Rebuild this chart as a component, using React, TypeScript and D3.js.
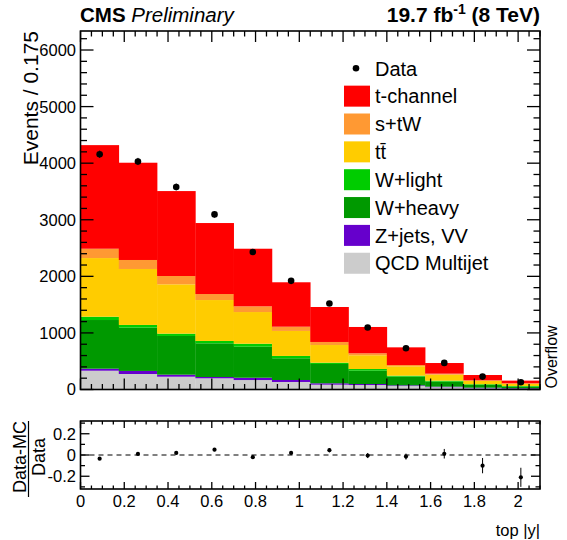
import React from "react";
import * as d3 from "d3";

// ---- data ----
const binEdges = [0, 0.175, 0.35, 0.525, 0.7, 0.875, 1.05, 1.225, 1.4, 1.575, 1.75, 1.925, 2.1];
const qcd = [332, 274, 226, 198, 167, 133, 85, 79, 61, 39, 21, 9];
const zjetsVV = [36, 54, 36, 23, 41, 35, 25, 18, 13, 11, 11, 12];
const wHeavy = [860, 765, 684, 595, 548, 384, 341, 235, 152, 88, 48, 29];
const wLight = [58, 48, 41, 42, 53, 41, 23, 30, 18, 18, 13, 12];
const ttbar = [1037, 989, 872, 723, 560, 442, 312, 243, 166, 106, 58, 36];
const stW = [165, 159, 147, 106, 101, 75, 54, 35, 23, 18, 12, 13];
const tChannel = [1831, 1719, 1501, 1255, 1018, 785, 618, 465, 312, 188, 93, 46];
const dataCounts = [4158, 4030, 3580, 3095, 2430, 1920, 1520, 1095, 730, 470, 228, 128];
const ratioValues = [-0.035, 0.01, 0.02, 0.05, -0.02, 0.02, 0.045, -0.005, -0.015, 0.012, -0.1, -0.21];
const ratioErrors = [0.012, 0.012, 0.013, 0.014, 0.016, 0.018, 0.02, 0.024, 0.028, 0.045, 0.072, 0.09];
const yTicksMain = [0, 1000, 2000, 3000, 4000, 5000, 6000];
const xTickLabels = [0, 0.2, 0.4, 0.6, 0.8, 1, 1.2, 1.4, 1.6, 1.8, 2];
const ratioTickLabels = [0.2, 0, -0.2];

const processes = [
  { key: "qcd", label: "QCD Multijet", values: qcd, color: "#cccccc" },
  { key: "zjets", label: "Z+jets, VV", values: zjetsVV, color: "#6600cc" },
  { key: "wheavy", label: "W+heavy", values: wHeavy, color: "#009900" },
  { key: "wlight", label: "W+light", values: wLight, color: "#00cc00" },
  { key: "ttbar", label: "tt\u0304", values: ttbar, color: "#ffcc00" },
  { key: "stw", label: "s+tW", values: stW, color: "#ff9933" },
  { key: "tch", label: "t-channel", values: tChannel, color: "#ff0000" },
];

const FONT = "'Liberation Sans', Arial, Helvetica, sans-serif";

export default function App() {
  const W = 567, H = 540;
  const L = 80.5, R = 540;
  const x = d3.scaleLinear().domain([0, 2.1]).range([L, R]);
  const y = d3.scaleLinear().domain([0, 6336]).range([389.5, 31]);
  const yr = d3.scaleLinear().domain([-0.32, 0.32]).range([489, 421]);

  const nb = binEdges.length - 1;
  const rows = d3.range(nb).map((i) => {
    const o: any = { i };
    processes.forEach((p) => (o[p.key] = p.values[i]));
    return o;
  });
  const stacked = d3.stack().keys(processes.map((p) => p.key))(rows as any);

  const mainTop = y.range()[1], mainBot = y.range()[0];
  const rTop = yr.range()[1], rBot = yr.range()[0];

  const xMinor = d3.range(0, 2.1 + 1e-9, 0.05).map((v) => +v.toFixed(3));
  const isMajorX = (v: number) => Math.abs(v / 0.2 - Math.round(v / 0.2)) < 1e-6;
  const yMinor = d3.range(0, 6336, 200);
  const rMinor = [-0.3, -0.2, -0.1, 0, 0.1, 0.2, 0.3];

  const centers = d3.range(nb).map((i) => (binEdges[i] + binEdges[i + 1]) / 2);

  const legendRows = [...processes].reverse();
  const legY0 = 68.3, legStep = 27.85;

  return (
    <svg width={W} height={H} style={{ position: "absolute", left: 0, top: 0, background: "#fff" }} fontFamily={FONT}>
      <rect x={0} y={0} width={W} height={H} fill="#fff" />
      {/* stacked histograms */}
      {stacked.map((s, si) => (
        <g key={processes[si].key}>
          {s.map((d, i) => (
            <rect
              key={i}
              x={x(binEdges[i])}
              width={x(binEdges[i + 1]) - x(binEdges[i]) + 0.3}
              y={y(d[1])}
              height={Math.max(0, y(d[0]) - y(d[1]))}
              fill={processes[si].color}
            />
          ))}
        </g>
      ))}
      {/* data points */}
      {dataCounts.map((v, i) => {
        const e = Math.sqrt(v);
        return (
          <g key={i}>
            <line x1={x(centers[i])} x2={x(centers[i])} y1={y(v - e)} y2={y(v + e)} stroke="#000" strokeWidth={1} />
            <circle cx={x(centers[i])} cy={y(v)} r={3.3} fill="#000" />
          </g>
        );
      })}
      {/* main frame & ticks */}
      <rect x={L} y={mainTop} width={R - L} height={mainBot - mainTop} fill="none" stroke="#000" strokeWidth={1.6} />
      {xMinor.map((v) => {
        const len = isMajorX(v) ? 11 : 5.5;
        return (
          <g key={"mx" + v}>
            <line x1={x(v)} x2={x(v)} y1={mainBot} y2={mainBot - len} stroke="#000" strokeWidth={1.3} />
            <line x1={x(v)} x2={x(v)} y1={mainTop} y2={mainTop + len} stroke="#000" strokeWidth={1.3} />
          </g>
        );
      })}
      {yMinor.map((v) => {
        const len = v % 1000 === 0 ? 13 : 6.5;
        return (
          <g key={"my" + v}>
            <line x1={L} x2={L + len} y1={y(v)} y2={y(v)} stroke="#000" strokeWidth={1.3} />
            <line x1={R} x2={R - len} y1={y(v)} y2={y(v)} stroke="#000" strokeWidth={1.3} />
          </g>
        );
      })}
      {yTicksMain.map((v) => (
        <text key={"yl" + v} x={76} y={y(v)} dy="0.36em" textAnchor="end" fontSize={16.5}>
          {v}
        </text>
      ))}
      <text transform={`translate(37.5,${mainTop}) rotate(-90)`} textAnchor="end" fontSize={21}>
        Events / 0.175
      </text>
      <text transform={`translate(557,${mainBot - 1}) rotate(-90)`} textAnchor="start" fontSize={16}>
        Overflow
      </text>
      {/* header */}
      <text x={80} y={22} fontSize={20.5}>
        <tspan fontWeight="bold">CMS</tspan>
        <tspan fontStyle="italic"> Preliminary</tspan>
      </text>
      <text x={540} y={22} fontSize={21} fontWeight="bold" textAnchor="end">
        19.7 fb<tspan fontSize={14} dy={-8}>-1</tspan>
        <tspan dy={8}> (8 TeV)</tspan>
      </text>
      {/* legend */}
      <circle cx={356} cy={legY0} r={3.3} fill="#000" />
      <text x={375} y={legY0} dy="0.36em" fontSize={20}>
        Data
      </text>
      {legendRows.map((p, k) => {
        const cy = legY0 + legStep * (k + 1);
        return (
          <g key={p.key}>
            <rect x={344} y={cy - 10.5} width={26} height={21} fill={p.color} />
            <text x={375} y={cy} dy="0.36em" fontSize={20}>
              {p.label}
            </text>
          </g>
        );
      })}
      {/* ratio panel */}
      <line x1={L} x2={R} y1={yr(0)} y2={yr(0)} stroke="#000" strokeWidth={1} strokeDasharray="5,4" />
      {ratioValues.map((v, i) => (
        <g key={"r" + i}>
          <line
            x1={x(centers[i])}
            x2={x(centers[i])}
            y1={yr(v - ratioErrors[i])}
            y2={yr(v + ratioErrors[i])}
            stroke="#000"
            strokeWidth={1}
          />
          <circle cx={x(centers[i])} cy={yr(v)} r={2.1} fill="#000" />
        </g>
      ))}
      <rect x={L} y={rTop} width={R - L} height={rBot - rTop} fill="none" stroke="#000" strokeWidth={1.6} />
      {xMinor.map((v) => {
        const len = isMajorX(v) ? 7 : 3.5;
        return (
          <g key={"rx" + v}>
            <line x1={x(v)} x2={x(v)} y1={rBot} y2={rBot - len} stroke="#000" strokeWidth={1.3} />
            <line x1={x(v)} x2={x(v)} y1={rTop} y2={rTop + len} stroke="#000" strokeWidth={1.3} />
          </g>
        );
      })}
      {rMinor.map((v) => {
        const major = Math.abs(v / 0.2 - Math.round(v / 0.2)) < 1e-6;
        const len = major ? 9 : 4.5;
        return (
          <g key={"ry" + v}>
            <line x1={L} x2={L + len} y1={yr(v)} y2={yr(v)} stroke="#000" strokeWidth={1.3} />
            <line x1={R} x2={R - len} y1={yr(v)} y2={yr(v)} stroke="#000" strokeWidth={1.3} />
          </g>
        );
      })}
      {ratioTickLabels.map((v) => (
        <text key={"rl" + v} x={76} y={yr(v)} dy="0.36em" textAnchor="end" fontSize={16.5}>
          {v}
        </text>
      ))}
      {xTickLabels.map((v) => (
        <text key={"xl" + v} x={x(v)} y={506.5} textAnchor="middle" fontSize={16.5}>
          {v}
        </text>
      ))}
      <text x={540} y={536} textAnchor="end" fontSize={16.5}>
        top |y|
      </text>
      {/* ratio y title: fraction */}
      <text transform={`translate(26,${yr(0) + 2}) rotate(-90)`} textAnchor="middle" fontSize={18}>
        Data-MC
      </text>
      <line x1={28.5} x2={28.5} y1={421} y2={497} stroke="#000" strokeWidth={1.2} />
      <text transform={`translate(45,${yr(0) + 2}) rotate(-90)`} textAnchor="middle" fontSize={18}>
        Data
      </text>
    </svg>
  );
}
